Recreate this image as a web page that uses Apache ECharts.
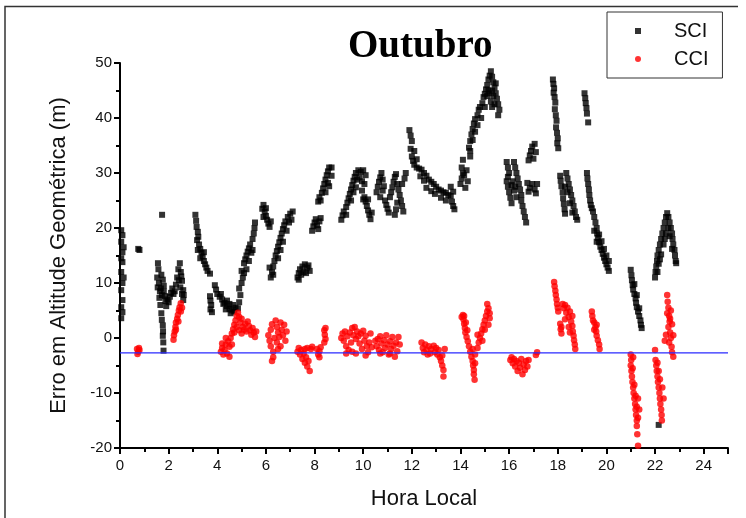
<!DOCTYPE html>
<html>
<head>
<meta charset="utf-8">
<script src="https://cdn.jsdelivr.net/npm/echarts@6/dist/echarts.min.js"></script>
<style>
  html, body { margin: 0; padding: 0; background: #fff; }
  #chart { width: 746px; height: 518px; }
</style>
</head>
<body>
<div id="chart"></div>
<script>
// hora local (h) vs erro em altitude (m)
const sciPoints = [
  [0.05,19.6],[0.1,18.7],[0.05,17.5],[0.1,15.6],[0.05,14.5],[0.1,13.8],[0.05,12],[0.1,10],[0.05,8.7],[0.1,6.9],[0.05,5.6],[0.1,4.7],[0.05,3.6],[0.15,16.5],[0.15,11],
  [0.75,16.2],[0.8,16],
  [1.73,22.4],
  [1.56,13.6],[1.58,12.5],[1.53,11],[1.6,10],[1.55,9.2],[1.64,8.5],[1.62,7.3],[1.66,6],[1.7,4.5],[1.72,3.3],[1.76,2.3],[1.77,1.2],[1.76,0.4],[1.78,-0.8],[1.79,-2.3],
  [1.7,11.5],[1.76,10.6],[1.8,9.5],[1.8,8.5],[1.85,7.6],[1.87,6.7],[1.9,5.8],[1.68,9],[1.72,7.8],[1.95,7],[2.0,6.5],[2.05,7.5],[2.1,8.2],[2.15,9],[2.2,8],[2.25,8.5],[2.3,9.7],[2.35,11],
  [2.4,12.5],[2.46,13.6],[2.5,12],[2.55,10.4],[2.6,8.7],[2.62,7.8],[2.6,6.9],[2.52,11.2],[2.42,10.5],[2.48,9.2],[2.55,8],
  [3.1,22.4],[3.13,21.3],[3.15,20.2],[3.2,19.3],[3.22,18.4],[3.17,17.8],[3.25,17],[3.3,16.2],[3.35,15.5],[3.4,14.8],[3.45,14],[3.5,13.4],[3.55,12.8],[3.6,12.2],[3.7,11.7],[3.3,14.5],[3.2,16],[3.45,15.6],
  [3.9,9.6],[3.95,8.8],[4.0,8],[4.1,7.5],[4.2,7],[4.3,6.4],[4.4,5.8],[4.5,5.3],[4.6,5],[4.7,4.8],[3.7,7.6],[3.72,6.8],[3.75,6],[3.72,5.2],[3.78,4.7],[4.25,6.2],[4.35,5.2],[4.55,4.5],[4.15,8],[4.4,6.8],[4.5,6.2],[4.65,6],[4.75,5.5],
  [4.85,5.4],[4.9,6.5],[4.95,7.8],[4.9,9],[5.0,10],[5.05,11],[5.0,12.2],[5.1,13.6],[5.15,14.3],[5.2,15],[5.25,15.7],[5.3,16.3],[5.35,17],[5.45,18],[5.5,19],[5.53,20],[5.55,21],[5.4,15.5],[5.2,12.5],[5.1,11.8],[5.3,14],[5.45,16],
  [5.85,23.5],[5.9,24.2],[5.95,23],[6.0,22.2],[6.05,21.5],[6.1,20.8],[6.15,20.2],[5.9,22],[6.0,23.6],[6.2,21.2],
  [6.2,11],[6.25,12],[6.3,13],[6.35,14],[6.4,15],[6.45,15.8],[6.5,16.6],[6.55,17.4],[6.6,18.2],[6.65,19],[6.7,19.8],[6.75,20.5],[6.8,21.2],[6.9,22],[7.0,22.6],[7.1,23],[6.5,14.5],[6.6,16],[6.7,17.5],[6.85,19.5],[6.95,21],[7.05,21.5],[6.3,11.5],[6.15,12.8],
  [7.3,11],[7.35,11.8],[7.4,12.5],[7.5,13],[7.6,13.4],[7.7,12.8],[7.45,11.5],[7.55,12],[7.65,11.8],[7.75,13.2],[7.8,12.2],[7.35,10.6],
  [7.9,19.5],[7.95,20.3],[8.0,21],[8.05,21.6],[8.1,20.5],[8.2,21.2],[8.15,19.8],[8.25,21.8],
  [8.15,24.8],[8.2,25.6],[8.3,26.4],[8.35,27.2],[8.4,28],[8.45,28.8],[8.5,29.6],[8.55,30.3],[8.6,31],[8.25,25],[8.45,26.5],[8.55,28.2],[8.7,29.5],[8.6,27.6],[8.7,31],
  [9.1,21.5],[9.15,22.3],[9.2,23],[9.3,23.8],[9.35,24.6],[9.4,25.4],[9.45,26.2],[9.5,27],[9.55,27.8],[9.6,28.6],[9.65,29.3],[9.7,30],[9.8,30.5],[9.9,30.2],[10.0,30.5],[10.1,29.6],[9.75,28.8],[9.85,29.2],[9.5,25],[9.6,26.5],[9.3,22.4],[9.7,27.4],[9.95,28.5],[10.05,28],
  [10.05,25.6],[10.1,24.8],[10.15,24],[10.2,23.2],[10.25,22.4],[10.3,21.6],[10.2,25.2],[10.35,22.8],[9.95,26.8],[10.0,25.2],
  [10.55,26.5],[10.6,27.5],[10.65,28.4],[10.7,29.2],[10.75,30],[10.8,28.8],[10.7,25.6],[10.8,26.8],[10.9,25],[10.95,24.2],[11.0,23.5],[10.85,27.6],[11.05,22.8],[11.1,25.6],[11.15,26.5],[11.2,27.4],[11.25,28.4],[11.3,29.3],[11.35,29.8],[11.4,28],[11.45,27],[11.5,26],[11.55,25],[11.6,24],[11.65,23],[11.3,22.4],[11.35,23.4],[11.4,24.6],[11.7,29],[11.75,30],[11.6,28],
  [11.9,37.8],[11.95,36.8],[12.0,35.8],[11.95,34.4],[12.0,33],[12.05,32.2],[12.1,31.5],[12.2,31],[12.3,30.8],[12.4,30.6],[12.5,30],[12.6,29.5],[12.7,28.8],[12.8,28.4],[12.9,28],[13.0,27.5],[13.1,27],[13.2,26.8],[13.3,26.5],[13.4,26.4],[13.5,26],[13.6,25.8],[13.65,24.8],[13.7,24],[13.75,23.4],[13.6,27.5],[13.7,26.6],[12.6,27.3],[12.8,26.7],[12.95,26.2],[13.2,25.5],[13.4,25],[12.2,32.5],[12.1,34],[12.35,29.4],[12.5,28.6],
  [14.0,28],[14.05,29],[14.1,30],[14.05,31],[14.1,32.4],[14.2,27.3],[14.3,28.5],[14.4,33],[14.15,29.6],[14.25,30.5],
  [14.35,34.6],[14.4,35.8],[14.45,37],[14.5,38],[14.55,39],[14.6,39.8],[14.7,40.5],[14.75,41.5],[14.8,42],[14.9,42.7],[14.95,43.8],[15.0,44.4],[15.05,45.2],[15.1,46],[15.15,47],[15.2,47.7],[15.25,48.5],[15.3,47.5],[15.35,46.5],[15.4,45.5],[15.45,44.5],[15.5,43.5],[15.55,42.5],[15.6,41.5],[15.55,40.5],[15.3,42],[15.25,43],[15.2,44.5],[15.35,44],[15.4,42.5],[15.1,44],[15.0,42],[14.85,40],[14.6,37.5],[14.5,36],[14.4,34],[14.7,38.7],[15.15,45],[15.45,46.3],[15.3,45],
  [15.9,32],[15.95,31],[16.0,30],[15.9,28.5],[15.95,27.5],[16.0,26.5],[16.05,25.5],[16.1,27.8],[16.15,28.5],[16.2,26.8],[16.25,27.5],[16.3,25.6],[16.1,24.5],[15.95,29.3],
  [16.2,32],[16.25,31],[16.3,30],[16.35,29],[16.4,28],[16.45,27],[16.5,26],[16.5,25],[16.55,24],[16.6,23],[16.65,22],[16.7,21],
  [16.75,28.2],[16.85,27.3],[16.95,28],[17.05,27],[17.15,28],[17.1,26.3],[16.8,26.6],
  [16.8,32.3],[16.85,33.2],[16.9,34],[16.95,34.8],[17.05,35.3],[17.1,33.8],[17.0,32.6],
  [17.8,47],[17.82,46.2],[17.85,45.4],[17.83,44.6],[17.87,43.8],[17.9,42.8],[17.88,41.6],[17.92,40.5],[17.95,39.5],[17.93,38.3],[17.97,37.3],[18.0,36.3],[17.98,35.4],[18.02,34.5],
  [18.1,29.5],[18.12,28.6],[18.15,27.6],[18.2,26.5],[18.22,25.4],[18.25,24.4],[18.28,23.4],[18.3,22.6],[18.35,30],[18.4,29],[18.45,28],[18.5,27],[18.55,26],[18.6,25],[18.65,24],[18.7,23],[18.75,22],[18.8,21.5],[18.4,26.5],[18.5,24.5],[18.6,22.8],[18.3,27.5],
  [19.1,44.5],[19.13,43.6],[19.15,42.7],[19.18,41.8],[19.2,40.8],[19.25,39.2],
  [19.2,30],[19.22,29],[19.25,28],[19.28,27],[19.3,26],[19.33,25],[19.36,24.2],[19.4,23.6],
  [19.45,23],[19.5,22],[19.55,21],[19.6,20],[19.62,19],[19.65,18.2],[19.7,17.4],[19.75,16.6],[19.8,16],[19.85,15.3],[19.9,14.6],[19.95,14],[20.0,13.4],[20.05,12.8],[20.1,12.2],[19.5,19.5],[19.6,17.5],[19.7,18.8],[19.8,17.6],[19.9,16.2],[20.0,15],[20.1,14],
  [21.0,12.4],[21.03,11.4],[21.05,10.5],[21.08,9.6],[21.1,8.8],[21.15,8],[21.2,7.2],[21.22,6.4],[21.25,5.6],[21.3,4.8],[21.35,4],[21.4,3.2],[21.42,2.4],[21.45,1.8],[21.15,9.8],[21.25,7.8],[21.35,5.4],
  [22.0,11],[22.02,12],[22.05,13],[22.08,14],[22.1,15],[22.15,16],[22.2,17],[22.25,18],[22.3,19],[22.35,20],[22.4,21],[22.45,22],[22.5,22.7],[22.55,22],[22.6,21],[22.65,20],[22.7,19],[22.72,18],[22.75,17],[22.8,16],[22.82,15],[22.85,14],[22.87,13.6],[22.15,13.5],[22.25,15.2],[22.35,17],[22.45,19],[22.55,20],[22.6,18.5],[22.7,16.2],[22.1,12],[22.4,18],[22.2,14.3],
  [22.15,-15.8]
];

const cciPoints = [
  [0.7,-2.0],[0.75,-2.5],[0.8,-2.2],[0.72,-2.9],[0.78,-1.8],
  [2.2,-0.3],[2.22,0.5],[2.25,1.2],[2.28,2],[2.3,2.8],[2.35,3.5],[2.38,4.2],[2.42,5],[2.45,5.6],[2.5,6.3],[2.3,1.5],[2.4,3],[2.5,4.8],[2.55,5.5],
  [4.15,-2.5],[4.2,-1.8],[4.25,-3],[4.3,-2.2],[4.35,-1.2],[4.4,-2.8],[4.45,-0.6],[4.2,-1],[4.5,-1.6],[4.55,0],[4.6,0.8],[4.65,1.6],[4.7,2.4],[4.75,3.2],[4.8,4],[4.85,4.6],[4.9,3.8],[4.95,2.8],[5.0,3.5],[5.05,2],[4.7,1],[4.8,2],[4.9,1.4],[5.0,0.8],[5.1,1.5],[5.15,2.6],[5.2,1.2],[5.25,3],[5.3,2.2],[5.35,1.4],[5.4,0.6],[5.45,1.8],[5.5,1],[5.55,0.2],[5.6,1.2],[4.6,-1.2],[4.5,-3.4],[4.35,0],
  [6.1,0.5],[6.15,-0.5],[6.2,1.5],[6.2,-1.5],[6.25,2.5],[6.3,-2.5],[6.35,0],[6.4,3.2],[6.45,2],[6.5,1],[6.45,-0.8],[6.55,0.2],[6.6,-1.5],[6.65,1.5],[6.7,0.5],[6.75,2.4],[6.8,-0.5],[6.85,1.2],[6.3,-3.5],[6.25,-4.2],[6.6,2.8],[6.5,-2],
  [7.3,-2.5],[7.35,-1.8],[7.4,-3],[7.45,-2.2],[7.5,-3.8],[7.55,-2.8],[7.6,-4.5],[7.65,-3.5],[7.7,-5.2],[7.75,-4.2],[7.8,-6],[7.85,-2],[7.9,-1.6],[7.6,-2],[7.7,-1.8],
  [8.1,-2],[8.15,-3],[8.2,-2.4],[8.25,-1.7],[8.2,-3.5],
  [8.4,1.4],[8.42,0.6],[8.45,-0.2],[8.4,-0.8],[8.45,1.8],
  [9.1,0],[9.15,0.8],[9.2,-0.5],[9.25,1.2],[9.3,-1.5],[9.35,0.3],[9.4,-2.2],[9.45,1],[9.5,-0.8],[9.55,1.8],[9.6,0.5],[9.65,2],[9.7,-0.2],[9.75,1.2],[9.8,0.3],[9.85,-1],[9.9,0.8],[9.95,-2],[10.0,1.3],[10.05,-0.5],[10.1,0.4],[10.15,-1.5],[10.2,-2.6],[10.25,-0.8],[10.3,0.8],[10.35,-1.7],[9.55,-2.5],[9.3,-2.8],[9.7,-2.8],[10.1,-3.2],
  [10.5,-0.5],[10.55,-1.5],[10.6,-0.2],[10.65,-2.2],[10.7,0.3],[10.75,-1],[10.8,-2.6],[10.85,-0.4],[10.9,-1.8],[10.95,0.5],[11.0,-1.2],[11.05,-3],[11.1,-0.6],[11.15,-2],[11.2,0.2],[11.25,-1.4],[11.3,-3.4],[11.35,-0.8],[11.4,-2.4],[11.45,0.2],[11.5,-1.2],[10.7,-2.8],[11.1,-2.8],
  [12.4,-0.8],[12.45,-1.8],[12.5,-2.6],[12.55,-1.2],[12.6,-2.2],[12.7,-1.5],[12.75,-2.8],[12.8,-2],[12.9,-1.4],[12.95,-2.6],[13.0,-1.8],[13.05,-3],[13.1,-2.2],[13.15,-3.5],[13.2,-4.2],[13.25,-5],[13.25,-3.2],[13.3,-5.8],[13.3,-7],[13.35,-2],[12.65,-3],
  [14.1,4.2],[14.12,3.4],[14.15,2.6],[14.18,1.8],[14.2,1],[14.25,0.2],[14.3,-0.6],[14.05,3.8],[14.15,4],[14.22,2.8],[14.28,1.4],[14.35,-1.5],[14.4,-2.5],
  [14.45,-3.4],[14.5,-4.2],[14.52,-5],[14.55,-5.8],[14.55,-6.6],[14.58,-7.6],[14.6,-4.6],[14.5,-2],[14.6,-3],
  [14.7,-1.8],[14.75,-0.8],[14.8,0],[14.85,0.8],[14.9,1.6],[14.95,2.4],[15.0,3.2],[15.05,4],[15.1,4.8],[15.1,6.2],[15.15,5.4],[15.2,3.6],[15.15,2.4],[15.0,1.5],[14.9,-0.5],[14.7,0.6],[15.2,4.5],
  [16.05,-4],[16.1,-3.5],[16.15,-4.6],[16.2,-3.8],[16.25,-5.2],[16.3,-4.2],[16.35,-6],[16.4,-4.5],[16.45,-5.4],[16.5,-3.8],[16.55,-6.6],[16.6,-4.8],[16.65,-5.8],[16.7,-4.2],[16.75,-5.2],[16.8,-4],[17.1,-3.1],[17.15,-2.6],
  [17.85,10.2],[17.87,9.4],[17.9,8.6],[17.92,7.8],[17.95,7],[17.97,6.2],[18.0,5.5],[18.02,4.8],[18.1,2.6],[18.12,1.6],[18.15,0.8],[18.15,2],[18.2,6.2],[18.25,5.4],[18.3,6],[18.35,4.6],[18.4,5.5],[18.45,3.8],[18.5,4.8],[18.55,3],[18.6,4],[18.6,2.2],[18.62,1.2],[18.65,0.4],[18.67,-0.4],[18.7,-1.2],[18.72,-2],[18.3,3.4],[18.45,2],[18.5,1],
  [19.4,4.8],[19.42,4],[19.45,3.2],[19.5,2.8],[19.55,2],[19.58,1.2],[19.6,0.4],[19.65,-0.4],[19.7,-1.2],[19.72,-2],[19.5,1.5],[19.6,2.4],
  [21.0,-3],[21.02,-4],[21.0,-5],[21.03,-6],[21.05,-7],[21.07,-8],[21.1,-9],[21.12,-10],[21.15,-11],[21.18,-12],[21.2,-13],[21.22,-14],[21.25,-15],[21.25,-16],[21.27,-17.5],[21.3,-19.6],[21.08,-5.5],[21.15,-8.5],[21.2,-10.5],[21.25,-12.5],[21.3,-14.5],[21.3,-11],[21.1,-3.5],[21.35,-13],
  [22.0,-2.2],[22.02,-4],[22.05,-5],[22.07,-6],[22.1,-7],[22.12,-8],[22.15,-9],[22.18,-10],[22.2,-11],[22.22,-12],[22.25,-13],[22.27,-14],[22.28,-15],[22.1,-4.5],[22.2,-7.5],[22.3,-9],[22.35,-11],[22.15,-6],
  [22.5,7.8],[22.52,6.6],[22.55,5.5],[22.5,4.5],[22.58,4],[22.6,3],[22.55,2],[22.62,1],[22.65,0],[22.58,-0.8],[22.68,-1.6],[22.7,-2.6],[22.75,-3.4],[22.7,2.5],[22.65,5],[22.75,0.5],[22.45,0.6],[22.4,-0.5],[22.62,3.5]
];

const refLevel = -2.7;
const xRange = [0, 25];
const yRange = [-20, 50];

const chart = echarts.init(document.getElementById("chart"), null, { renderer: "canvas" });

const axisFont = { color: "#111", fontSize: 15, fontFamily: "Liberation Sans, Arial, sans-serif" };
const refColor = "#2a2aff";

chart.setOption({
  animation: false,
  backgroundColor: "#fff",
  title: {
    text: "Outubro",
    left: 343,
    top: 22,
    textStyle: { fontFamily: "Liberation Serif, Times New Roman, serif", fontSize: 39, fontWeight: "bold", color: "#000" },
  },
  legend: {
    left: 607,
    top: 12,
    orient: "vertical",
    padding: [9, 14, 9, 28],
    itemGap: 8,
    itemWidth: 6,
    itemHeight: 6,
    borderColor: "#333",
    borderWidth: 1,
    textStyle: { fontSize: 20, color: "#111", fontFamily: "Liberation Sans, Arial, sans-serif", padding: [0, 0, 0, 28] },
    data: [
      { name: "SCI", icon: "rect" },
      { name: "CCI", icon: "circle" },
    ],
  },
  grid: { left: 120, right: 18, top: 63, bottom: 70 },
  xAxis: {
    type: "value",
    min: xRange[0],
    max: xRange[1],
    interval: 2,
    name: "Hora Local",
    nameLocation: "middle",
    nameGap: 40,
    nameTextStyle: { fontSize: 22, color: "#111", fontFamily: "Liberation Sans, Arial, sans-serif" },
    axisLine: { onZero: false, lineStyle: { color: "#000", width: 2 } },
    axisTick: { length: 6, lineStyle: { color: "#000", width: 2 } },
    minorTick: { show: true, splitNumber: 2, length: 4, lineStyle: { color: "#000", width: 2 } },
    axisLabel: { ...axisFont, margin: 10, formatter: (v) => (v > 24 ? "" : v) },
    splitLine: { show: false },
  },
  yAxis: {
    type: "value",
    min: yRange[0],
    max: yRange[1],
    interval: 10,
    name: "Erro em Altitude Geométrica (m)",
    nameLocation: "middle",
    nameGap: 50,
    nameTextStyle: { fontSize: 22, color: "#111", fontFamily: "Liberation Sans, Arial, sans-serif" },
    axisLine: { onZero: false, lineStyle: { color: "#000", width: 2 } },
    axisTick: { length: 6, lineStyle: { color: "#000", width: 2 } },
    minorTick: { show: true, splitNumber: 2, length: 4, lineStyle: { color: "#000", width: 2 } },
    axisLabel: { ...axisFont, margin: 8 },
    splitLine: { show: false },
  },
  graphic: [
    { type: "polyline", silent: true, shape: { points: [[5, 520], [5, 6.5], [738, 6.5]] }, style: { stroke: "#333", lineWidth: 1.5, fill: null } },
  ],
  series: [
    {
      name: "SCI",
      type: "scatter",
      symbol: "rect",
      symbolSize: 6,
      itemStyle: { color: "#000" },
      data: sciPoints,
    },
    {
      name: "CCI",
      type: "scatter",
      symbol: "circle",
      symbolSize: 6.5,
      itemStyle: { color: "#ff0000" },
      data: cciPoints,
    },
    {
      name: "ref",
      type: "line",
      silent: true,
      showSymbol: false,
      symbol: "none",
      z: 5,
      lineStyle: { color: refColor, width: 1.3 },
      itemStyle: { color: refColor },
      data: [[xRange[0], refLevel], [xRange[1], refLevel]],
    },
  ],
});
</script>
</body>
</html>
